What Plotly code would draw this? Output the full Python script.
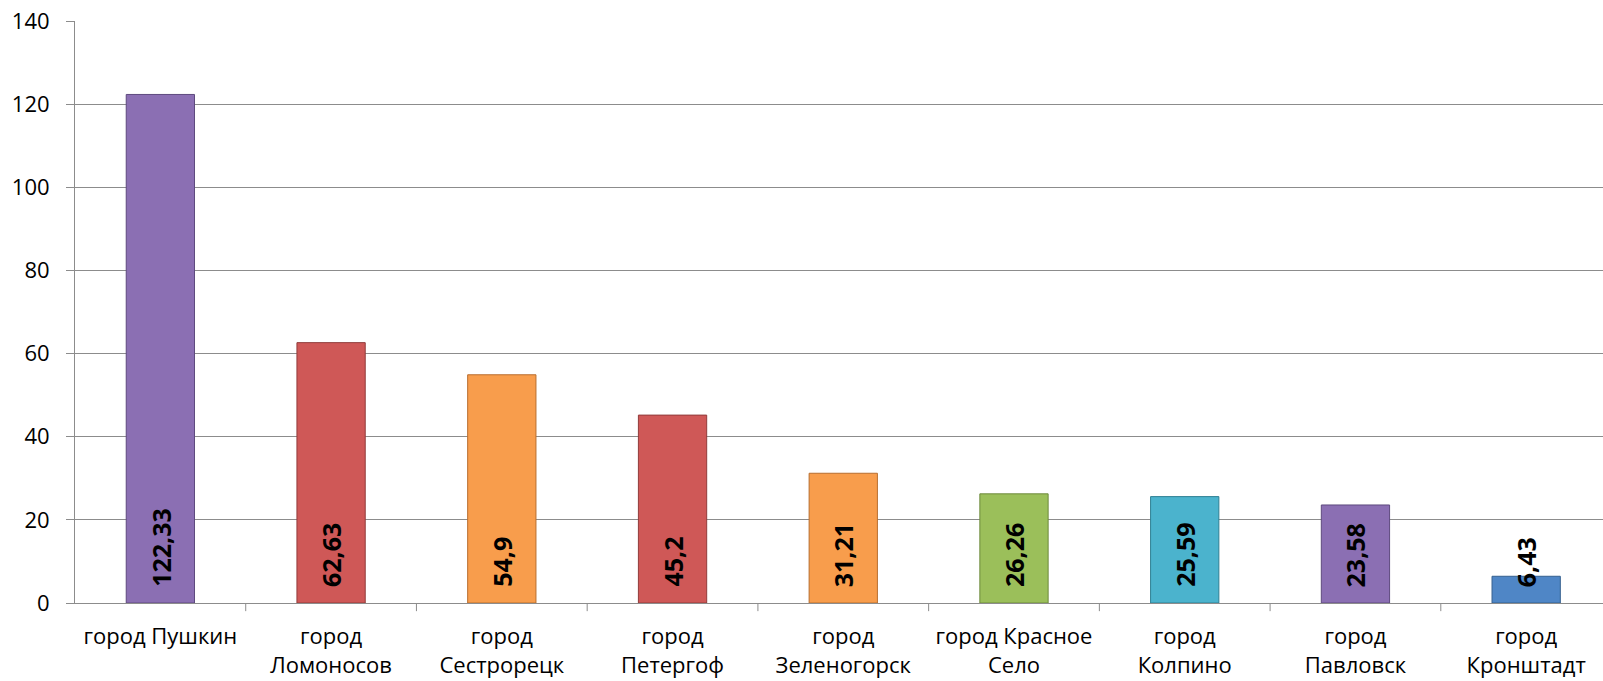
import plotly.graph_objects as go

cities = [
    "город Пушкин",
    "город<br>Ломоносов",
    "город<br>Сестрорецк",
    "город<br>Петергоф",
    "город<br>Зеленогорск",
    "город Красное<br>Село",
    "город<br>Колпино",
    "город<br>Павловск",
    "город<br>Кронштадт",
]
values = [122.33, 62.63, 54.9, 45.2, 31.21, 26.26, 25.59, 23.58, 6.43]
value_labels = ["122,33", "62,63", "54,9", "45,2", "31,21", "26,26", "25,59", "23,58", "6,43"]
bar_colors = [
    "#8b6fb3", "#cf5857", "#f89d4c", "#cf5857", "#f89d4c",
    "#9bbf5a", "#4bb3cd", "#8b6fb3", "#4f86c6",
]
edge_colors = [
    "#5e4a7e", "#913c3b", "#b86e2f", "#913c3b", "#b86e2f",
    "#6d8a3c", "#2f7f93", "#5e4a7e", "#35608f",
]

fig = go.Figure()
fig.add_trace(
    go.Bar(
        x=list(range(len(cities))),
        y=values,
        width=0.4,
        marker=dict(color=bar_colors, line=dict(color=edge_colors, width=1)),
        hoverinfo="y",
    )
)

# value labels, rotated, sitting near the base of each bar
for i, lbl in enumerate(value_labels):
    fig.add_annotation(
        x=i, y=0, text=f"<b>{lbl}</b>",
        textangle=-90, showarrow=False,
        xanchor="center", yanchor="bottom", yshift=14,
        font=dict(family="Open Sans", size=25, color="black"),
    )

fig.update_layout(
    width=1603,
    height=681,
    margin=dict(l=75, r=0, t=21, b=78),
    plot_bgcolor="white",
    paper_bgcolor="white",
    showlegend=False,
    font=dict(family="Open Sans", size=22, color="black"),
)
fig.update_xaxes(
    tickmode="array",
    tickvals=list(range(len(cities))),
    ticktext=cities,
    range=[-0.5, 8.45],
    automargin=False,
    showgrid=False,
    showline=True,
    linecolor="#8c8c8c",
    linewidth=1,
    ticks="",
    ticklabelstandoff=14,
    tickfont=dict(size=22),
)
# category boundary tick marks under the x axis
for i in range(len(cities) - 1):
    fig.add_shape(
        type="line", xref="x", yref="paper",
        x0=i + 0.5, x1=i + 0.5, y0=0, y1=-0.014,
        line=dict(color="#8c8c8c", width=1),
    )
fig.update_yaxes(
    range=[0, 140],
    dtick=20,
    automargin=False,
    showgrid=True,
    gridcolor="#8c8c8c",
    gridwidth=1,
    showline=True,
    linecolor="#8c8c8c",
    linewidth=1,
    ticks="outside",
    ticklen=8,
    tickcolor="#8c8c8c",
    ticklabelstandoff=12,
    tickfont=dict(size=22),
    zeroline=False,
)

fig.write_html(
    "out.html",
    config={"displayModeBar": False},
    post_script="document.body.style.margin='0';",
)
